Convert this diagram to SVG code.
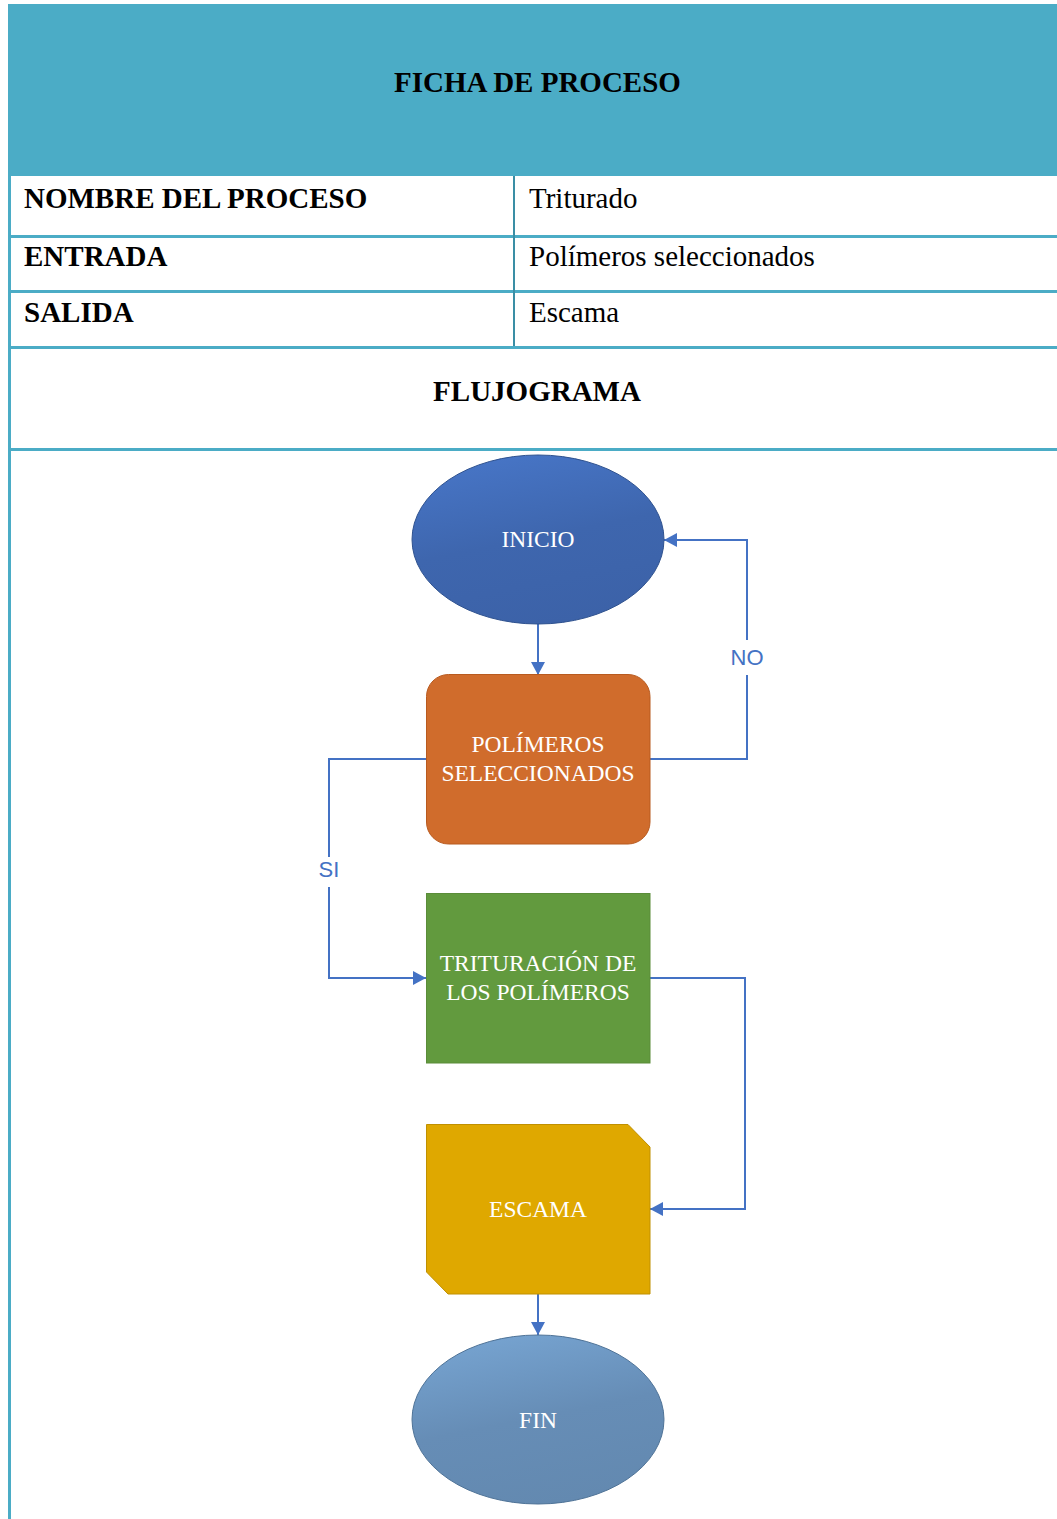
<svg xmlns="http://www.w3.org/2000/svg" width="1057" height="1519" viewBox="0 0 1057 1519">
<style>
.hdr{font-family:"Liberation Serif",serif;font-weight:bold;font-size:29px;fill:#000}
.cell{font-family:"Liberation Serif",serif;font-size:29px;fill:#000}
.node{font-family:"Liberation Serif",serif;font-size:23.5px;fill:#fff;text-anchor:middle}
.lbl{font-family:"Liberation Sans",sans-serif;font-size:22px;fill:#4472c4;text-anchor:middle}
.grid{stroke:#4bacc6;stroke-width:3;fill:none}
.conn{stroke:#4472c4;stroke-width:2;fill:none}
</style>
<defs>
<marker id="arr" markerUnits="userSpaceOnUse" markerWidth="14" markerHeight="14" refX="13" refY="7" orient="auto">
<path d="M0,0 L13,7 L0,14 Z" fill="#4472c4"/>
</marker>
<linearGradient id="gInicio" x1="0.3" y1="0" x2="0.6" y2="1">
<stop offset="0" stop-color="#4775c6"/>
<stop offset="0.5" stop-color="#3e66ae"/>
<stop offset="1" stop-color="#3c62a8"/>
</linearGradient>
<linearGradient id="gFin" x1="0.3" y1="0" x2="0.6" y2="1">
<stop offset="0" stop-color="#76a3d0"/>
<stop offset="0.5" stop-color="#668db6"/>
<stop offset="1" stop-color="#6389b0"/>
</linearGradient>
</defs>
<rect x="0" y="0" width="1057" height="1519" fill="#fff"/>
<g id="table">
<rect x="8" y="4" width="1049" height="172" fill="#4bacc6"/>
<line class="grid" x1="9.5" y1="176" x2="9.5" y2="1519"/>
<line class="grid" x1="8" y1="236.5" x2="1057" y2="236.5"/>
<line class="grid" x1="8" y1="291.5" x2="1057" y2="291.5"/>
<line class="grid" x1="8" y1="347.5" x2="1057" y2="347.5"/>
<line class="grid" x1="8" y1="449.5" x2="1057" y2="449.5"/>
<line x1="514" y1="176" x2="514" y2="346" stroke="#3a8ea5" stroke-width="2"/>
<text class="hdr" x="537.5" y="92" text-anchor="middle">FICHA DE PROCESO</text>
<text class="hdr" x="24" y="208">NOMBRE DEL PROCESO</text>
<text class="cell" x="529" y="208">Triturado</text>
<text class="hdr" x="24" y="266">ENTRADA</text>
<text class="cell" x="529" y="266">Polímeros seleccionados</text>
<text class="hdr" x="24" y="322">SALIDA</text>
<text class="cell" x="529" y="322">Escama</text>
<text class="hdr" x="537" y="401" text-anchor="middle">FLUJOGRAMA</text>
</g>
<g id="connectors">
<line class="conn" x1="538" y1="624" x2="538" y2="675" marker-end="url(#arr)"/>
<path class="conn" d="M650,759 H747 V675"/>
<path class="conn" d="M747,640 V540 H664" marker-end="url(#arr)"/>
<text class="lbl" x="747" y="665">NO</text>
<path class="conn" d="M426,759 H329 V857"/>
<path class="conn" d="M329,887 V978 H426" marker-end="url(#arr)"/>
<text class="lbl" x="329" y="877">SI</text>
<path class="conn" d="M650,978 H745 V1209 H650" marker-end="url(#arr)"/>
<line class="conn" x1="538" y1="1294" x2="538" y2="1335" marker-end="url(#arr)"/>
</g>
<g id="inicio">
<ellipse cx="538" cy="539.5" rx="126" ry="84.5" fill="url(#gInicio)" stroke="#2f528f" stroke-width="1"/>
<text class="node" x="538" y="547">INICIO</text>
</g>
<g id="polimeros">
<rect x="426.5" y="674.5" width="223.5" height="169.5" rx="22" fill="#d06c2c" stroke="#b85a1f" stroke-width="1"/>
<text class="node" x="538" y="752">POLÍMEROS</text>
<text class="node" x="538" y="781">SELECCIONADOS</text>
</g>
<g id="trituracion">
<rect x="426.5" y="893.5" width="223.5" height="169.5" fill="#629a3e" stroke="#5a8c39" stroke-width="1"/>
<text class="node" x="538" y="971">TRITURACIÓN DE</text>
<text class="node" x="538" y="1000">LOS POLÍMEROS</text>
</g>
<g id="escama">
<path d="M426.5,1124.5 H628 L650,1147 V1294 H448 L426.5,1272 Z" fill="#dfa800" stroke="#c09000" stroke-width="1"/>
<text class="node" x="538" y="1217">ESCAMA</text>
</g>
<g id="fin">
<ellipse cx="538" cy="1419.5" rx="126" ry="84.5" fill="url(#gFin)" stroke="#4f7397" stroke-width="1"/>
<text class="node" x="538" y="1428">FIN</text>
</g>
</svg>
